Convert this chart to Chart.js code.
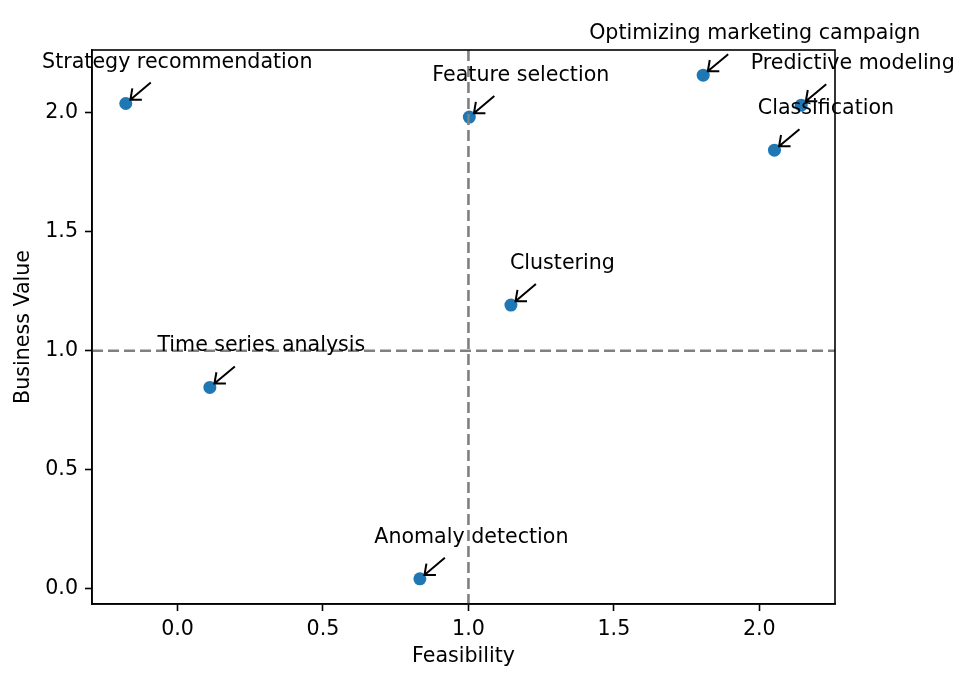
<!DOCTYPE html>
<html>
<head>
<meta charset="utf-8">
<script src="https://cdn.jsdelivr.net/npm/chart.js@4.4.1/dist/chart.umd.min.js"></script>
<style>
  html, body { margin: 0; padding: 0; background: #fff; }
  #wrap { width: 979px; height: 684px; }
</style>
</head>
<body>
<div id="wrap"><canvas id="chart" width="979" height="684"></canvas></div>
<script>
// Data
const taskNames = [
  "Strategy recommendation",
  "Feature selection",
  "Optimizing marketing campaign",
  "Predictive modeling",
  "Classification",
  "Clustering",
  "Time series analysis",
  "Anomaly detection",
];
const feasibility = [-0.178, 1.003, 1.807, 2.144, 2.052, 1.146, 0.111, 0.833];
const businessValue = [2.039, 1.982, 2.158, 2.032, 1.843, 1.192, 0.846, 0.042];
const xTicks = [0, 0.5, 1, 1.5, 2];
const yTicks = [0, 0.5, 1, 1.5, 2];
const xThreshold = 1;
const yThreshold = 1;

const FONT = "DejaVu Sans";
const FONT_SIZE = 20.6;

// axis limits with 5% margin like matplotlib
function paddedRange(values) {
  const lo = Math.min(...values);
  const hi = Math.max(...values);
  const m = (hi - lo) * 0.05;
  return [lo - m, hi + m];
}
const [xMin, xMax] = paddedRange(feasibility);
const [yMin, yMax] = paddedRange(businessValue);

const points = feasibility.map((x, i) => ({ x: x, y: businessValue[i] }));

// Dashed threshold lines, drawn over the points
const thresholdLines = {
  id: "thresholdLines",
  afterDatasetsDraw(chart) {
    const { ctx, chartArea, scales } = chart;
    const px = scales.x.getPixelForValue(xThreshold);
    const py = scales.y.getPixelForValue(yThreshold);
    ctx.save();
    ctx.beginPath();
    ctx.rect(chartArea.left, chartArea.top, chartArea.right - chartArea.left, chartArea.bottom - chartArea.top);
    ctx.clip();
    ctx.strokeStyle = "#808080";
    ctx.lineWidth = 2.6;
    ctx.setLineDash([11, 5]);
    ctx.beginPath();
    ctx.moveTo(px, chartArea.top);
    ctx.lineTo(px, chartArea.bottom);
    ctx.moveTo(chartArea.left, py);
    ctx.lineTo(chartArea.right, py);
    ctx.stroke();
    ctx.restore();
  },
};

// Frame + annotations with arrows
const annotations = {
  id: "annotations",
  afterDraw(chart) {
    const { ctx, chartArea } = chart;
    ctx.save();
    ctx.strokeStyle = "#000";
    ctx.lineWidth = 1.6;
    ctx.strokeRect(chartArea.left, chartArea.top, chartArea.right - chartArea.left, chartArea.bottom - chartArea.top);

    const meta = chart.getDatasetMeta(0);
    meta.data.forEach((el, i) => {
      const x = el.x;
      const y = el.y;
      // arrow from text towards the point
      const tx = x + 25, ty = y - 21;
      const dx = tx - x, dy = ty - y;
      const len = Math.sqrt(dx * dx + dy * dy);
      const ux = dx / len, uy = dy / len;
      const hx = x + ux * 6, hy = y + uy * 6;
      ctx.strokeStyle = "#000";
      ctx.lineWidth = 2;
      ctx.beginPath();
      ctx.moveTo(tx, ty);
      ctx.lineTo(hx, hy);
      const ang = Math.atan2(uy, ux);
      const wing = 11.5, spread = 0.7;
      ctx.moveTo(hx + Math.cos(ang + spread) * wing, hy + Math.sin(ang + spread) * wing);
      ctx.lineTo(hx, hy);
      ctx.lineTo(hx + Math.cos(ang - spread) * wing, hy + Math.sin(ang - spread) * wing);
      ctx.stroke();

      ctx.fillStyle = "#000";
      ctx.font = FONT_SIZE + "px '" + FONT + "'";
      ctx.textAlign = "center";
      ctx.textBaseline = "alphabetic";
      ctx.fillText(taskNames[i], x + 51.5, y - 36);
    });
    ctx.restore();
  },
};

const ctx = document.getElementById("chart").getContext("2d");
new Chart(ctx, {
  type: "scatter",
  data: {
    datasets: [
      {
        label: "Tasks",
        data: points,
        backgroundColor: "#1f77b4",
        borderWidth: 0,
        pointRadius: 6.5,
        pointHoverRadius: 6.5,
      },
    ],
  },
  options: {
    responsive: false,
    animation: false,
    devicePixelRatio: 1,
    layout: { padding: { left: 0, top: 50, right: 144, bottom: 0 } },
    plugins: {
      legend: { display: false },
      tooltip: { enabled: false },
    },
    events: [],
    scales: {
      x: {
        type: "linear",
        min: xMin,
        max: xMax,
        afterBuildTicks: (scale) => {
          scale.ticks = xTicks.map((v) => ({ value: v }));
        },
        afterFit: (scale) => {
          scale.height = 80;
        },
        ticks: {
          callback: (v) => Number(v).toFixed(1),
          color: "#000",
          font: { family: FONT, size: FONT_SIZE },
          padding: 6,
          maxRotation: 0,
          autoSkip: false,
        },
        grid: {
          drawOnChartArea: false,
          drawTicks: true,
          tickLength: 7,
          tickWidth: 1.6,
          tickColor: "#000",
        },
        border: { display: true, color: "#000", width: 1.6 },
        title: {
          display: true,
          text: "Feasibility",
          color: "#000",
          font: { family: FONT, size: FONT_SIZE },
          padding: { top: 0, bottom: 15 },
        },
      },
      y: {
        type: "linear",
        min: yMin,
        max: yMax,
        afterBuildTicks: (scale) => {
          scale.ticks = yTicks.map((v) => ({ value: v }));
        },
        afterFit: (scale) => {
          scale.width = 92;
        },
        ticks: {
          callback: (v) => Number(v).toFixed(1),
          color: "#000",
          font: { family: FONT, size: FONT_SIZE },
          padding: 7,
          autoSkip: false,
        },
        grid: {
          drawOnChartArea: false,
          drawTicks: true,
          tickLength: 7,
          tickWidth: 1.6,
          tickColor: "#000",
        },
        border: { display: true, color: "#000", width: 1.6 },
        title: {
          display: true,
          text: "Business Value",
          color: "#000",
          font: { family: FONT, size: FONT_SIZE },
          padding: { top: 11.5, bottom: 0 },
        },
      },
    },
  },
  plugins: [thresholdLines, annotations],
});
</script>
</body>
</html>
